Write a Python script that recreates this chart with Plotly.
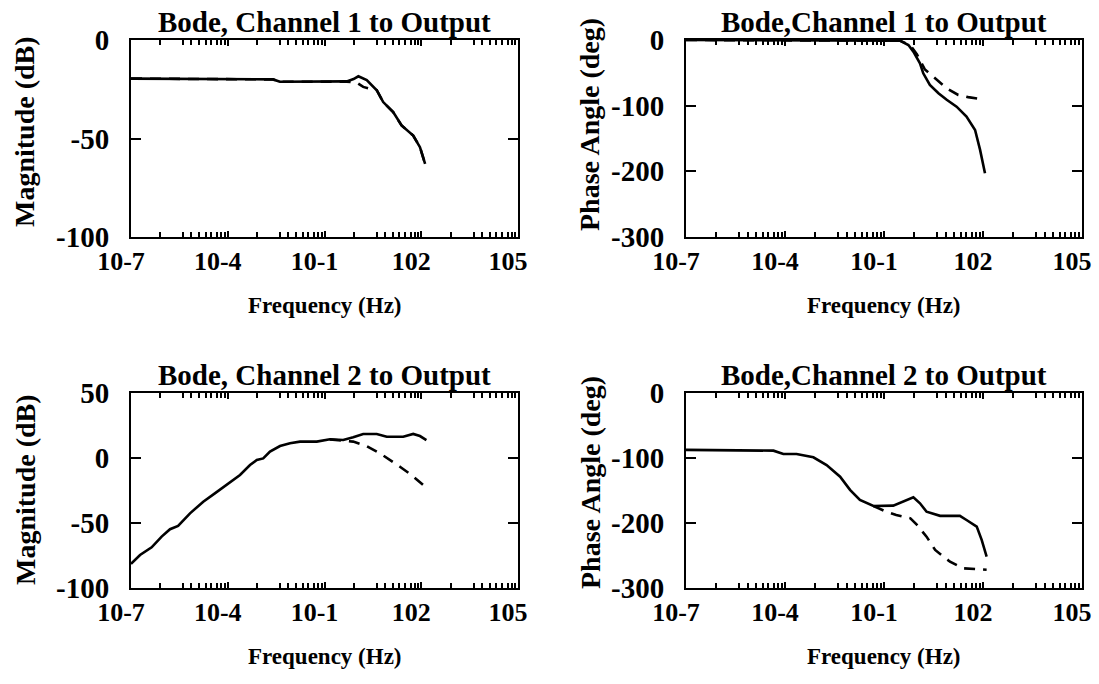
import plotly.graph_objects as go

# ---------------- data (frequency given as log10(Hz)) ----------------
ch1_mag_solid_lf = [-7, -4, -2.6, -2.38, -1.0, -0.31, -0.1, 0.05, 0.31, 0.62, 0.82, 1.13, 1.39, 1.75, 1.96, 2.12]
ch1_mag_solid_db = [-19.6, -19.8, -20.0, -21.2, -21.3, -21.0, -19.8, -18.4, -20.4, -25.5, -31.5, -36.6, -43.4, -48.5, -54.4, -62.9]
ch1_mag_dash_lf = [-7, -2.6, -2.38, -0.31, 0.0, 0.2, 0.45, 0.62, 0.82, 1.13, 1.39, 1.75, 1.96, 2.12]
ch1_mag_dash_db = [-19.6, -20.0, -21.2, -21.2, -21.6, -23.8, -25.0, -25.5, -31.5, -36.6, -43.4, -48.5, -54.4, -62.9]

ch1_ph_solid_lf = [-7, -0.9, -0.52, -0.26, -0.11, 0.09, 0.19, 0.39, 0.65, 0.9, 1.2, 1.5, 1.76, 1.91, 2.06]
ch1_ph_solid_deg = [0, 0, -1, -7.6, -17.8, -35.5, -50.7, -68.5, -81, -91, -101.5, -116.7, -137, -167, -203]
ch1_ph_dash_lf = [-7, -0.9, -0.52, -0.2, 0.0, 0.24, 0.49, 0.9, 1.25, 1.55, 1.96, 2.06]
ch1_ph_dash_deg = [0, 0, -1, -8, -22, -45, -56, -73.5, -83.7, -87, -90.3, -91]

ch2_mag_solid_lf = [-7.0, -6.72, -6.36, -6.05, -5.79, -5.54, -5.17, -4.76, -4.4, -4.04, -3.62, -3.31, -3.1, -2.9,
                    -2.69, -2.38, -2.07, -1.76, -1.24, -0.83, -0.42, -0.11, 0.2, 0.62, 0.93, 1.44, 1.75, 1.96, 2.16]
ch2_mag_solid_db = [-81.5, -74.6, -68.7, -60.5, -54.8, -52.3, -42.6, -33.6, -27.2, -20.8, -13.1, -5.4, -1.5, -0.3,
                    4.9, 9.2, 11.3, 12.6, 12.6, 14.4, 13.8, 15.9, 18.5, 18.5, 16.4, 16.4, 18.5, 16.9, 13.8]
ch2_mag_dash_lf = [-0.83, -0.42, -0.11, 0.3, 0.72, 1.34, 1.7, 2.12]
ch2_mag_dash_db = [14.2, 13.0, 12.6, 9.2, 3.6, -6.7, -13.1, -22.1]

ch2_ph_solid_lf = [-7, -4.35, -4.05, -3.65, -3.14, -2.74, -2.33, -2.03, -1.73, -1.32, -0.72, -0.42, -0.11, 0.09,
                   0.29, 0.7, 1.3, 1.5, 1.81, 1.96, 2.11]
ch2_ph_solid_deg = [-87.5, -88.7, -93.8, -93.8, -99, -110.8, -128.7, -149, -164.6, -173.8, -173.3, -167, -160.5,
                    -169.7, -182.6, -189, -189, -195.4, -205.6, -226, -251.8]
ch2_ph_dash_lf = [-1.32, -0.93, -0.63, -0.2, 0.0, 0.29, 0.55, 1.0, 1.4, 1.91, 2.11]
ch2_ph_dash_deg = [-173.8, -182.6, -187.7, -192.8, -203, -221, -241.5, -259.5, -269.7, -271.3, -272]

x_tick_exps = [-7, -4, -1, 2, 5]
x_tick_labels = ["10-7", "10-4", "10-1", "102", "105"]
titles = ["Bode, Channel 1 to Output", "Bode,Channel 1 to Output",
          "Bode, Channel 2 to Output", "Bode,Channel 2 to Output"]
y_titles = ["Magnitude (dB)", "Phase Angle (deg)", "Magnitude (dB)", "Phase Angle (deg)"]
x_title = "Frequency (Hz)"
y_ticks = [[-100, -50, 0], [-300, -200, -100, 0], [-100, -50, 0, 50], [-300, -200, -100, 0]]
y_tick_labels = [["-100", "-50", "0"], ["-300", "-200", "-100", "0"],
                 ["-100", "-50", "0", "50"], ["-300", "-200", "-100", "0"]]
y_ranges = [[-100, 0], [-300, 0], [-100, 50], [-300, 0]]

# ---------------- layout geometry ----------------
W, H = 1099, 684
FONT = "Liberation Serif"
# pixel boxes: (left, right, top, bottom)
boxes = [(131, 518, 40, 237), (686, 1082, 40, 237), (131, 518, 393, 588), (686, 1082, 393, 588)]
y_title_pos = [(25, 132), (590, 125), (25, 490), (590, 483)]

# minor tick offsets (decades) before each labelled decade, mimicking original print
minor_offsets = [-2.09, -1.38, -1.13, -0.88, -0.68, -0.51, -0.32, -0.2, -0.09]
minor_vals = [10 ** (L + o) for L in x_tick_exps[1:] for o in minor_offsets]

def f(lst):
    return [10 ** v for v in lst]

series = [
    (ch1_mag_solid_lf, ch1_mag_solid_db, ch1_mag_dash_lf, ch1_mag_dash_db),
    (ch1_ph_solid_lf, ch1_ph_solid_deg, ch1_ph_dash_lf, ch1_ph_dash_deg),
    (ch2_mag_solid_lf, ch2_mag_solid_db, ch2_mag_dash_lf, ch2_mag_dash_db),
    (ch2_ph_solid_lf, ch2_ph_solid_deg, ch2_ph_dash_lf, ch2_ph_dash_deg),
]

fig = go.Figure()
annotations = []
layout = {}
for i, (sx, sy, dx, dy) in enumerate(series):
    n = "" if i == 0 else str(i + 1)
    xa, ya = "x" + n, "y" + n
    fig.add_trace(go.Scatter(x=f(dx), y=dy, mode="lines", xaxis=xa, yaxis=ya, showlegend=False,
                             line=dict(color="black", width=2.6, dash="11px,8px")))
    fig.add_trace(go.Scatter(x=f(sx), y=sy, mode="lines", xaxis=xa, yaxis=ya, showlegend=False,
                             line=dict(color="black", width=2.6)))
    l, r, t, b = boxes[i]
    layout["xaxis" + n] = dict(
        type="log", range=[-7, 5], domain=[l / W, r / W], anchor=ya, automargin=False,
        tickvals=[10 ** e for e in x_tick_exps], ticktext=x_tick_labels,
        ticks="inside", ticklen=6, tickwidth=1.5, tickcolor="black",
        minor=dict(tickvals=minor_vals, ticks="inside", ticklen=5, tickwidth=1.5, tickcolor="black"),
        showline=True, linecolor="black", linewidth=2, mirror="ticks",
        showgrid=False, zeroline=False, ticklabelstandoff=0, ticklabelshift=-10,
        ticklabeloverflow="allow",
        tickfont=dict(family=FONT, size=26, color="black", weight="bold"),
    )
    layout["yaxis" + n] = dict(
        range=y_ranges[i], domain=[1 - b / H, 1 - t / H], anchor=xa, automargin=False,
        tickvals=y_ticks[i], ticktext=y_tick_labels[i],
        ticks="inside", ticklen=10, tickwidth=1.5, tickcolor="black",
        showline=True, linecolor="black", linewidth=2, mirror="ticks",
        showgrid=False, zeroline=False, ticklabelstandoff=14, ticklabeloverflow="allow",
        tickfont=dict(family=FONT, size=29, color="black", weight="bold"),
    )
    annotations.append(dict(text=titles[i], x=(l + r) / 2 / W, y=1 - t / H, xref="paper", yref="paper",
                            xanchor="center", yanchor="bottom", showarrow=False, yshift=0,
                            font=dict(family=FONT, size=29, color="black", weight="bold")))
    annotations.append(dict(text=x_title, x=(l + r) / 2 / W, y=1 - (b + 68) / H, xref="paper", yref="paper",
                            xanchor="center", yanchor="middle", showarrow=False,
                            font=dict(family=FONT, size=23, color="black", weight="bold")))
    tx, ty = y_title_pos[i]
    annotations.append(dict(text=y_titles[i], x=tx / W, y=1 - ty / H, xref="paper", yref="paper",
                            xanchor="center", yanchor="middle", showarrow=False, textangle=-90,
                            font=dict(family=FONT, size=28, color="black", weight="bold")))

fig.update_layout(width=W, height=H, margin=dict(l=0, r=0, t=0, b=0, autoexpand=False),
                  paper_bgcolor="white", plot_bgcolor="white", annotations=annotations, **layout)
fig.write_html("out.html")
